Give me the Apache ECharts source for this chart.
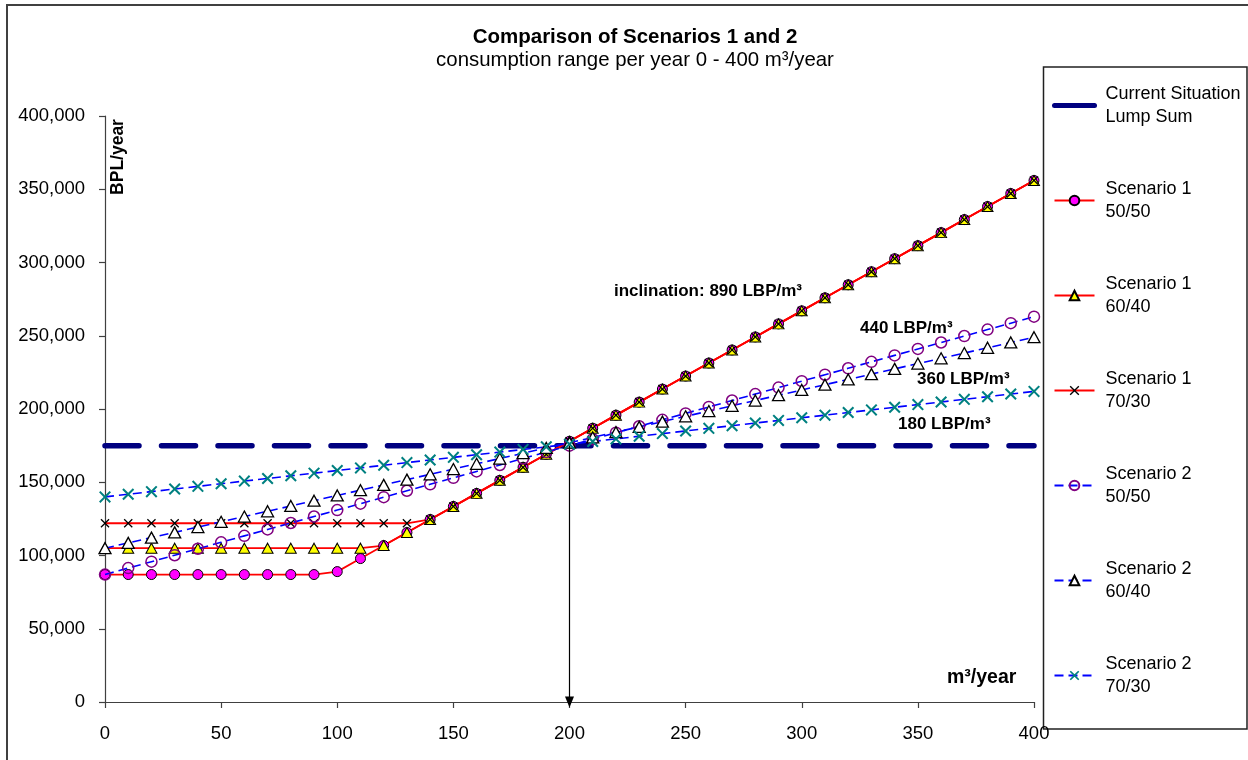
<!DOCTYPE html>
<html>
<head>
<meta charset="utf-8">
<script src="https://cdn.jsdelivr.net/npm/echarts@6/dist/echarts.min.js"></script>
<style>html,body{margin:0;padding:0;background:#fff;}#chart{width:1248px;height:760px;}</style>
</head>
<body>
<div id="chart"></div>
<script>
// ---- data ----
const xValues = [0,10,20,30,40,50,60,70,80,90,100,110,120,130,140,150,160,170,180,190,200,210,220,230,240,250,260,270,280,290,300,310,320,330,340,350,360,370,380,390,400];
const currentX = [0, 400];
const currentY = [175000, 175000];
const s1_50_50 = [87000,87000,87000,87000,87000,87000,87000,87000,87000,87000,89000,97900,106800,115700,124600,133500,142400,151300,160200,169100,178000,186900,195800,204700,213600,222500,231400,240300,249200,258100,267000,275900,284800,293700,302600,311500,320400,329300,338200,347100,356000];
const s1_60_40 = [105000,105000,105000,105000,105000,105000,105000,105000,105000,105000,105000,105000,106800,115700,124600,133500,142400,151300,160200,169100,178000,186900,195800,204700,213600,222500,231400,240300,249200,258100,267000,275900,284800,293700,302600,311500,320400,329300,338200,347100,356000];
const s1_70_30 = [122000,122000,122000,122000,122000,122000,122000,122000,122000,122000,122000,122000,122000,122000,124600,133500,142400,151300,160200,169100,178000,186900,195800,204700,213600,222500,231400,240300,249200,258100,267000,275900,284800,293700,302600,311500,320400,329300,338200,347100,356000];
const s2_50_50 = [87000,91400,95800,100200,104600,109000,113400,117800,122200,126600,131000,135400,139800,144200,148600,153000,157400,161800,166200,170600,175000,179400,183800,188200,192600,197000,201400,205800,210200,214600,219000,223400,227800,232200,236600,241000,245400,249800,254200,258600,263000];
const s2_60_40 = [105000,108600,112200,115800,119400,123000,126600,130200,133800,137400,141000,144600,148200,151800,155400,159000,162600,166200,169800,173400,177000,180600,184200,187800,191400,195000,198600,202200,205800,209400,213000,216600,220200,223800,227400,231000,234600,238200,241800,245400,249000];
const s2_70_30 = [140000,141800,143600,145400,147200,149000,150800,152600,154400,156200,158000,159800,161600,163400,165200,167000,168800,170600,172400,174200,176000,177800,179600,181400,183200,185000,186800,188600,190400,192200,194000,195800,197600,199400,201200,203000,204800,206600,208400,210200,212000];
const seriesNames = ['Current Situation\nLump Sum','Scenario 1\n50/50','Scenario 1\n60/40','Scenario 1\n70/30','Scenario 2\n50/50','Scenario 2\n60/40','Scenario 2\n70/30'];
const xTicks = [0,50,100,150,200,250,300,350,400];
const arrowX = 200, arrowTop = 175000, arrowBottom = 0;
const titleText = 'Comparison of Scenarios 1 and 2';
const subtitleText = 'consumption range per year 0 - 400 m³/year';
const yAxisTitle = 'BPL/year';
const xAxisTitle = 'm³/year';
const slopeLabels = ['inclination: 890 LBP/m³','440 LBP/m³','360 LBP/m³','180 LBP/m³'];

// ---- helpers ----
const FONT = '"Liberation Sans", Arial, sans-serif';
function pairs(xs, ys){ return xs.map((x,i)=>[x, ys[i]]); }
const X_PATH = 'path://M0,10 L10,0 L50,40 L90,0 L100,10 L60,50 L100,90 L90,100 L50,60 L10,100 L0,90 L40,50 Z';
const X_PATH_THICK = 'path://M0,12 L12,0 L50,38 L88,0 L100,12 L62,50 L100,88 L88,100 L50,62 L12,100 L0,88 L38,50 Z';

const chart = echarts.init(document.getElementById('chart'), null, {renderer:'canvas'});

const s1Line = {color:'#FF0000', width:1.8, type:'solid'};
const s2Line = {color:'#0000FF', width:1.6, type:[9,5]};

const option = {
  animation:false,
  backgroundColor:'#fff',
  grid:{left:105, right:214, top:116, bottom:58},
  xAxis:{
    type:'value', min:0, max:400, interval:50,
    axisLine:{show:true, onZero:false, lineStyle:{color:'#404040', width:1.2}},
    axisTick:{show:true, inside:false, length:6, lineStyle:{color:'#404040', width:1.2}},
    axisLabel:{margin:22, fontSize:18.5, fontFamily:FONT, color:'#000', customValues: xTicks},
    splitLine:{show:false}
  },
  yAxis:{
    type:'value', min:0, max:400000, interval:50000,
    axisLine:{show:true, onZero:false, lineStyle:{color:'#404040', width:1.2}},
    axisTick:{show:true, inside:false, length:6, lineStyle:{color:'#404040', width:1.2}},
    axisLabel:{margin:20, fontSize:18.5, fontFamily:FONT, color:'#000',
      formatter:function(v){ return v.toLocaleString('en-US'); }},
    splitLine:{show:false}
  },
  legend:{
    orient:'vertical', left:1052, top:71, padding:0,
    itemWidth:40, itemHeight:12, itemGap:26,
    textStyle:{fontSize:18, fontFamily:FONT, color:'#000', lineHeight:23, padding:[23,0,0,6]},
    data:[
      {name:seriesNames[0], lineStyle:{type:'solid', width:5}, itemStyle:{opacity:0}},
      {name:seriesNames[1]},{name:seriesNames[2]},{name:seriesNames[3]},
      {name:seriesNames[4]},{name:seriesNames[5]},{name:seriesNames[6]}
    ]
  },
  series:[
    {name:seriesNames[0], type:'line', data:pairs(currentX,currentY), symbol:'none',
      lineStyle:{color:'#000080', width:5.5, type:[34,22.5], cap:'round'},
      itemStyle:{color:'rgba(0,0,0,0)', borderWidth:0}, z:2,
      markLine:{silent:true, symbol:['none','triangle'], symbolSize:[9,11],
        lineStyle:{color:'#000', width:1.2, type:'solid'}, itemStyle:{color:'#000'}, label:{show:false},
        data:[[{coord:[arrowX, arrowTop]},{coord:[arrowX, arrowBottom]}]]}
    },
    {name:seriesNames[1], type:'line', data:pairs(xValues,s1_50_50), symbol:'circle', symbolSize:10,
      lineStyle:s1Line, itemStyle:{color:'#FF00FF', borderColor:'#000', borderWidth:1}, z:3},
    {name:seriesNames[2], type:'line', data:pairs(xValues,s1_60_40), symbol:'triangle', symbolSize:[11,10],
      lineStyle:s1Line, itemStyle:{color:'#FFFF00', borderColor:'#000', borderWidth:1}, z:3},
    {name:seriesNames[3], type:'line', data:pairs(xValues,s1_70_30), symbol:X_PATH, symbolSize:9,
      lineStyle:s1Line, itemStyle:{color:'#000'}, z:3},
    {name:seriesNames[4], type:'line', data:pairs(xValues,s2_50_50), symbol:'circle', symbolSize:11,
      lineStyle:s2Line, itemStyle:{color:'rgba(255,255,255,0)', borderColor:'#800080', borderWidth:1.5}, z:4},
    {name:seriesNames[5], type:'line', data:pairs(xValues,s2_60_40), symbol:'triangle', symbolSize:[12,11],
      lineStyle:s2Line, itemStyle:{color:'#fff', borderColor:'#000', borderWidth:1.3}, z:4},
    {name:seriesNames[6], type:'line', data:pairs(xValues,s2_70_30), symbol:X_PATH_THICK, symbolSize:12,
      lineStyle:s2Line, itemStyle:{color:'#008080'}, z:4}
  ],
  graphic:[
    {type:'rect', silent:true, z:0, shape:{x:7, y:5, width:1270, height:800}, style:{fill:'none', stroke:'#404040', lineWidth:2}},
    {type:'rect', silent:true, z:0, shape:{x:1043.5, y:67, width:203.5, height:662}, style:{fill:'none', stroke:'#202020', lineWidth:1.5}},
    {type:'text', x:635, y:37, style:{text:titleText, font:'bold 20.5px '+FONT, fill:'#000', align:'center', verticalAlign:'middle'}},
    {type:'text', x:635, y:60, style:{text:subtitleText, font:'20.4px '+FONT, fill:'#000', align:'center', verticalAlign:'middle'}},
    {type:'text', x:614, y:291, style:{text:slopeLabels[0], font:'bold 17px '+FONT, fill:'#000', align:'left', verticalAlign:'middle'}},
    {type:'text', x:860, y:328, style:{text:slopeLabels[1], font:'bold 17px '+FONT, fill:'#000', align:'left', verticalAlign:'middle'}},
    {type:'text', x:917, y:379, style:{text:slopeLabels[2], font:'bold 17px '+FONT, fill:'#000', align:'left', verticalAlign:'middle'}},
    {type:'text', x:898, y:424, style:{text:slopeLabels[3], font:'bold 17px '+FONT, fill:'#000', align:'left', verticalAlign:'middle'}},
    {type:'text', x:118.5, y:157, rotation:Math.PI/2, style:{text:yAxisTitle, font:'bold 17.5px '+FONT, fill:'#000', align:'center', verticalAlign:'middle'}},
    {type:'text', x:947, y:678, style:{text:xAxisTitle, font:'bold 19.5px '+FONT, fill:'#000', align:'left', verticalAlign:'middle'}}
  ]
};
chart.setOption(option);
</script>
</body>
</html>
